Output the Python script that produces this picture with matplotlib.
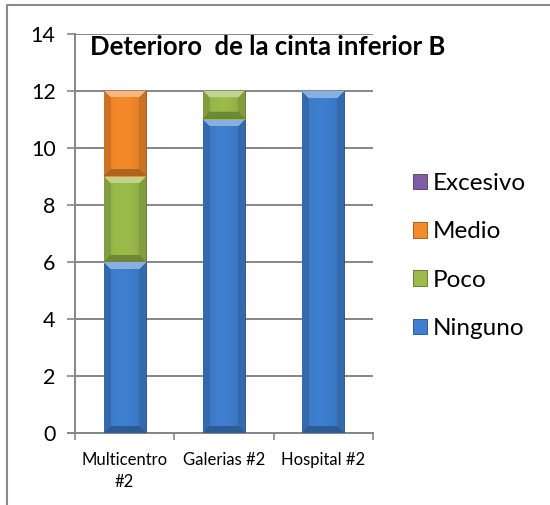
import numpy as np
import matplotlib
matplotlib.use("Agg")
import matplotlib.pyplot as plt
from matplotlib.patches import Patch
from matplotlib.lines import Line2D
from matplotlib.colors import to_rgb

plt.rcParams['font.family'] = ['Lato', 'DejaVu Sans']

categories = ["Multicentro\n#2", "Galerias #2", "Hospital #2"]
series_names = ["Ninguno", "Poco", "Medio", "Excesivo"]
ninguno = [6, 11, 12]
poco = [3, 1, 0]
medio = [3, 0, 0]
excesivo = [0, 0, 0]
series_values = [ninguno, poco, medio, excesivo]
colors = ["#3F7FCF", "#9BBB4A", "#F48A2A", "#7E5FA6"]
yticks = [0, 2, 4, 6, 8, 10, 12, 14]
title = "Deterioro  de la cinta inferior B"

W, H = 550, 505
fig = plt.figure(figsize=(W / 100, H / 100), dpi=100)
ax = fig.add_axes([75 / W, (H - 433) / H, (373 - 75) / W, (433 - 34) / H])

x = np.arange(len(categories))
bar_w = 0.42


def bevel_image(color, wpx, hpx, b=7):
    c = np.array(to_rgb(color))
    wpx = max(int(round(wpx)), 2)
    hpx = max(int(round(hpx)), 2)
    img = np.zeros((hpx, wpx, 3))
    jj = np.arange(wpx)
    t = jj / (wpx - 1)
    horiz = 1.0 - 0.12 * (np.abs(t - 0.45) * 2) ** 2
    for i in range(hpx):
        for j in range(wpx):
            d_top, d_bot = i, hpx - 1 - i
            d_l, d_r = j, wpx - 1 - j
            d = min(d_top, d_bot, d_l, d_r)
            if d >= b:
                col = c * horiz[j]
            elif d == d_top:
                col = c + (1 - c) * 0.38
            elif d == d_bot:
                col = c * 0.72
            else:
                col = c * 0.84
            img[i, j] = np.clip(col, 0, 1)
    return img


ax.set_xlim(-0.5, len(categories) - 0.5)
ax.set_ylim(0, 14)

bottom = np.zeros(len(categories))
px_per_x = (373 - 75) / 3.0
px_per_y = (433 - 34) / 14.0
for name, vals, col in zip(series_names, series_values, colors):
    vals = np.array(vals, dtype=float)
    bars = ax.bar(x, vals, bar_w, bottom=bottom, color=col, label=name,
                  edgecolor=np.array(to_rgb(col)) * 0.6, linewidth=0.6, zorder=3)
    for xi, v, b0, bar in zip(x, vals, bottom, bars):
        if v <= 0:
            continue
        img = bevel_image(col, bar_w * px_per_x, v * px_per_y)
        im = ax.imshow(img, extent=[xi - bar_w / 2, xi + bar_w / 2, b0, b0 + v],
                       aspect='auto', origin='upper', zorder=3.5, interpolation='bilinear')
        im.set_clip_path(bar)
    bottom += vals

ax.set_xlim(-0.5, len(categories) - 0.5)
ax.set_ylim(0, 14)

ax.set_yticks(yticks)
ax.set_yticklabels([str(v) for v in yticks], fontsize=15.5)
ax.yaxis.grid(True, color="#868686", linewidth=1.4, zorder=0)
ax.set_axisbelow(True)
ax.set_xticks(x)
ax.set_xticklabels(categories, fontsize=12, linespacing=1.45)
ax.set_xticks([-0.5, 0.5, 1.5, 2.5], minor=True)
ax.tick_params(axis='x', which='major', length=0, pad=14)
ax.tick_params(axis='x', which='minor', length=5, width=1.2, color="#868686")
ax.tick_params(axis='y', length=6, width=1.2, color="#868686", pad=8)
for s in ['top', 'right']:
    ax.spines[s].set_visible(False)
for s in ['left', 'bottom']:
    ax.spines[s].set_color("#868686")
    ax.spines[s].set_linewidth(1.4)
ax.plot([-0.5 - 7 / px_per_x, -0.5], [0, 0], color="#868686", lw=1.4, clip_on=False, zorder=2)

fig.text(90 / W, 1 - 47 / H, title, fontsize=18.5, fontweight='bold',
         ha='left', va='center')

handles = [Patch(facecolor=c, edgecolor=np.array(to_rgb(c)) * 0.6, linewidth=0.6)
           for c in colors]
leg = fig.legend(handles[::-1], series_names[::-1], loc='center left',
                 bbox_to_anchor=(391 / W, 1 - 256 / H), frameon=False, fontsize=17.5,
                 handlelength=0.6, handleheight=0.6, handletextpad=0.2, labelspacing=1.12)

# outer border (left and top)
fig.add_artist(Line2D([6.5 / W, 6.5 / W, 1], [0, 1 - 5 / H, 1 - 5 / H],
                      transform=fig.transFigure, color="#8a8a8a", linewidth=1.5))

fig.savefig("out.png", dpi=100)
